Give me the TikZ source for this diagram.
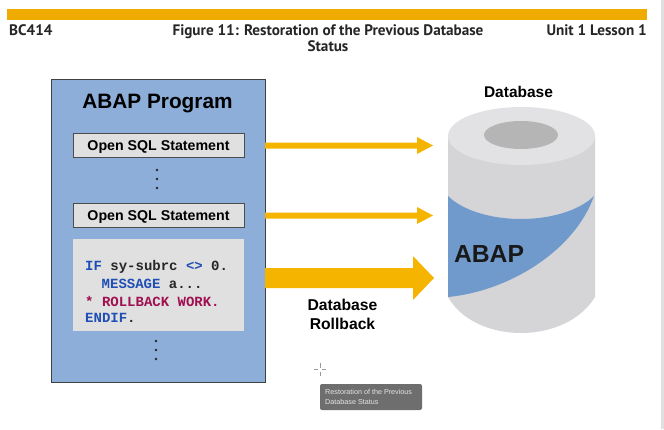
\documentclass[tikz,border=0pt]{standalone}
\usepackage{fontspec}
\setmainfont{Liberation Sans}
\setmonofont{Liberation Mono}
\newfontfamily\hdrfont{PT Sans}
\definecolor{barorange}{HTML}{F0AB00}
\definecolor{arrowor}{HTML}{F5B400}
\definecolor{panelblue}{HTML}{8DAED8}
\definecolor{bandblue}{HTML}{7099CC}
\definecolor{cylside}{HTML}{D5D4D7}
\definecolor{cyltop}{HTML}{E2E1E4}
\definecolor{cylhole}{HTML}{B5B5B5}
\definecolor{codebg}{HTML}{E0E0E0}
\definecolor{kwblue}{HTML}{1F4FB5}
\definecolor{cmtred}{HTML}{A01050}
\definecolor{tipgrey}{HTML}{6E6E6E}
\tikzset{
  hdr/.style={font=\hdrfont\bfseries\fontsize{15.2}{16.5}\selectfont, inner sep=0pt, text=black!85},
  sqlbox/.style={draw=black!70, line width=0.6pt, fill=codebg, minimum width=171pt, minimum height=24pt, inner sep=0pt, font=\bfseries\fontsize{14.2}{16}\selectfont},
  lbl/.style={inner sep=0pt, align=center},
  codeline/.style={font=\ttfamily\bfseries\fontsize{14}{16}\selectfont, inner sep=0pt, anchor=west},
  dotmark/.style={circle, fill=black!85, inner sep=0pt, minimum size=2.6pt},
}
\begin{document}
\begin{tikzpicture}[x=1pt,y=-1pt]
\useasboundingbox (0,0) rectangle (664,429);
\fill[white] (0,0) rectangle (664,429);
\fill[black!12] (661,0) rectangle (664,429);
% header
\fill[barorange] (7,9) rectangle (647,20);
\node[hdr, anchor=west] (hl) at (9,30) {BC414};
\node[hdr, anchor=east] (hr) at (647,30) {Unit 1 Lesson 1};
\node[hdr, align=center] (ht) at (328,38) {Figure 11: Restoration of the Previous Database\\[0pt]Status};
% panel
\node[draw=black!75, line width=0.8pt, fill=panelblue, minimum width=214pt, minimum height=303pt, inner sep=0pt] (panel) at (158,230.5) {};
\node[font=\bfseries\fontsize{20.8}{24}\selectfont, inner sep=0pt] (ptitle) at (157.5,104) {ABAP Program};
\node[sqlbox] (s1) at (158.5,145) {\raisebox{-5pt}[0pt][0pt]{Open SQL Statement}};
\node[dotmark] (d1a) at (157,170) {};
\node[dotmark] (d1b) at (157,179) {};
\node[dotmark] (d1c) at (157,188) {};
\node[sqlbox] (s2) at (158.5,215) {\raisebox{-5pt}[0pt][0pt]{Open SQL Statement}};
\node[fill=codebg, minimum width=171pt, minimum height=92pt, inner sep=0pt] (code) at (158.5,284.5) {};
\node[codeline] (c1) at (85,267) {\textcolor{kwblue}{IF} \textcolor{black!85}{sy-subrc} \textcolor{kwblue}{<>} \textcolor{black!85}{0.}};
\node[codeline] (c2) at (101.5,284) {\textcolor{kwblue}{MESSAGE} \textcolor{black!85}{a...}};
\node[codeline] (c3) at (85,301) {\textcolor{cmtred}{* ROLLBACK WORK.}};
\node[codeline] (c4) at (85,318) {\textcolor{kwblue}{ENDIF}\textcolor{black!85}{.}};
\node[dotmark] (d2a) at (156,341) {};
\node[dotmark] (d2b) at (156,350) {};
\node[dotmark] (d2c) at (156,359) {};
% cylinder
\path[fill=cylside] (448,136) -- (448,297) .. controls (461,320) and (490,333) .. (521,333) .. controls (552,333) and (581,320) .. (595,297) -- (595,136) -- cycle;
\path[fill=bandblue] (448,196) .. controls (462,210) and (490,219) .. (521,219) .. controls (552,219) and (580,210) .. (594,196) .. controls (575,250) and (510,291) .. (448,297) -- cycle;
\fill[cyltop] (521.5,136) ellipse [x radius=73.5, y radius=29];
\fill[cylhole] (521,135) ellipse [x radius=37, y radius=14];
\node[font=\bfseries\fontsize{24.7}{28}\selectfont, inner sep=0pt, text=black!90] (abap) at (489,254) {ABAP};
\node[lbl, font=\bfseries\fontsize{15.5}{18}\selectfont] (db) at (518.5,92) {Database};
% arrows
\fill[arrowor] (265,142.5) -- (417,142.5) -- (417,137) -- (433,145.5) -- (417,154) -- (417,148.5) -- (265,148.5) -- cycle;
\fill[arrowor] (265,212.5) -- (417,212.5) -- (417,207) -- (433,215.5) -- (417,224) -- (417,218.5) -- (265,218.5) -- cycle;
\fill[arrowor] (265,268) -- (413,268) -- (413,256) -- (434,278) -- (413,300) -- (413,288) -- (265,288) -- cycle;
\node[lbl, font=\bfseries\fontsize{15.7}{19}\selectfont] (rb) at (342.5,314) {Database\\ Rollback};
% cursor
\draw[black!40, line width=0.7pt] (320,363) -- (320,367.5) (320,371.5) -- (320,376) (314,369.5) -- (318,369.5) (322,369.5) -- (326,369.5);
% tooltip
\node[fill=tipgrey, rounded corners=2pt, minimum width=102pt, minimum height=26pt, inner sep=0pt] (tip) at (371,397) {};
\node[font=\fontsize{7.2}{9.7}\selectfont, text=white!90!black, align=left, anchor=west, inner sep=0pt] (tipt) at (325,397) {Restoration of the Previous\\Database Status};
\end{tikzpicture}
\end{document}
